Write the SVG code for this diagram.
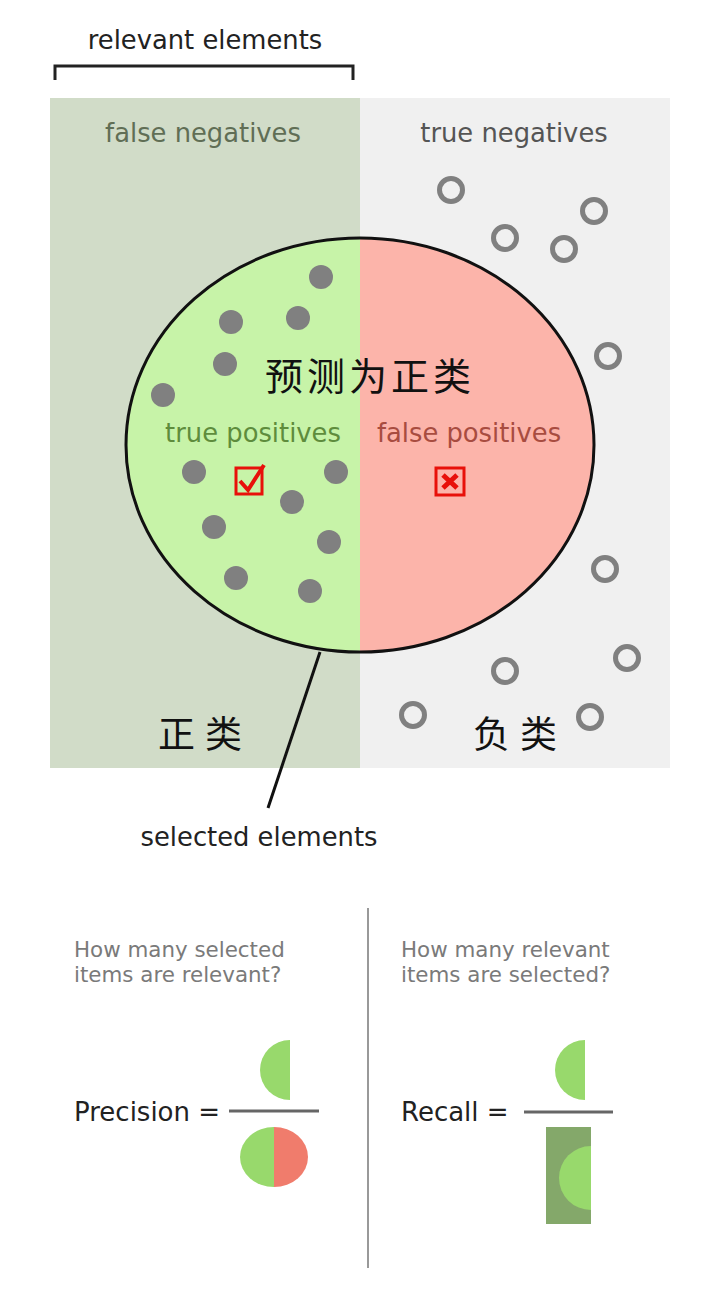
<svg xmlns="http://www.w3.org/2000/svg" width="720" height="1309" viewBox="0 0 720 1309">
<style>
.t{font-family:"DejaVu Sans",sans-serif;font-size:25.8px}
.cjk{font-family:"Noto Sans CJK SC","Noto Sans CJK JP",sans-serif;fill:#111}
.dot{fill:#808080}
.ring{fill:none;stroke:#808080;stroke-width:5}
.q{font-family:"DejaVu Sans",sans-serif;font-size:21.4px;fill:#7a7a7a}
.eq{font-family:"DejaVu Sans",sans-serif;font-size:26px;fill:#222}
</style>
<defs>
<clipPath id="cl"><rect x="0" y="0" width="360" height="1309"/></clipPath>
<clipPath id="cr"><rect x="360" y="0" width="360" height="1309"/></clipPath>
<clipPath id="rc"><rect x="546" y="1127" width="45" height="97"/></clipPath>
</defs>
<rect width="720" height="1309" fill="#fff"/>
<g id="relevant">
<text class="t" x="205" y="49" text-anchor="middle" fill="#222">relevant elements</text>
<path d="M55,80 V66 H353 V80" fill="none" stroke="#222" stroke-width="3"/>
</g>
<g id="panels">
<rect x="50" y="98" width="310" height="670" fill="#d1dcc8"/>
<rect x="360" y="98" width="310" height="670" fill="#f0f0f0"/>
<text class="t" x="203" y="142" text-anchor="middle" fill="#606e55">false negatives</text>
<text class="t" x="514" y="142" text-anchor="middle" fill="#555">true negatives</text>
</g>
<g id="selected">
<ellipse cx="360" cy="445" rx="234" ry="207" fill="#c7f3a8" clip-path="url(#cl)"/>
<ellipse cx="360" cy="445" rx="234" ry="207" fill="#fcb4aa" clip-path="url(#cr)"/>
<ellipse cx="360" cy="445" rx="234" ry="207" fill="none" stroke="#111" stroke-width="3"/>
<text class="cjk" x="370" y="390" font-size="38" text-anchor="middle" letter-spacing="4">预测为正类</text>
<text class="t" x="253" y="442" text-anchor="middle" fill="#5e8c3c">true positives</text>
<text class="t" x="469" y="442" text-anchor="middle" fill="#a84c40">false positives</text>
<rect x="236" y="468" width="26" height="26" fill="none" stroke="#e8100a" stroke-width="3"/>
<path d="M240,481 L248,490 L264,465" fill="none" stroke="#e8100a" stroke-width="4"/>
<rect x="436" y="468" width="28" height="27" fill="none" stroke="#e8100a" stroke-width="3"/>
<path d="M443,475 L457,488 M457,475 L443,488" fill="none" stroke="#e8100a" stroke-width="5"/>
</g>
<g id="points">
<circle class="dot" cx="321" cy="277" r="12"/>
<circle class="dot" cx="231" cy="322" r="12"/>
<circle class="dot" cx="298" cy="318" r="12"/>
<circle class="dot" cx="225" cy="364" r="12"/>
<circle class="dot" cx="163" cy="395" r="12"/>
<circle class="dot" cx="194" cy="472" r="12"/>
<circle class="dot" cx="336" cy="472" r="12"/>
<circle class="dot" cx="292" cy="502" r="12"/>
<circle class="dot" cx="214" cy="527" r="12"/>
<circle class="dot" cx="329" cy="542" r="12"/>
<circle class="dot" cx="236" cy="578" r="12"/>
<circle class="dot" cx="310" cy="591" r="12"/>
<circle class="ring" cx="451" cy="190" r="11.5"/>
<circle class="ring" cx="594" cy="211" r="11.5"/>
<circle class="ring" cx="505" cy="238" r="11.5"/>
<circle class="ring" cx="564" cy="249" r="11.5"/>
<circle class="ring" cx="608" cy="356" r="11.5"/>
<circle class="ring" cx="605" cy="569" r="11.5"/>
<circle class="ring" cx="627" cy="658" r="11.5"/>
<circle class="ring" cx="505" cy="671" r="11.5"/>
<circle class="ring" cx="413" cy="715" r="11.5"/>
<circle class="ring" cx="590" cy="717" r="11.5"/>
</g>
<g id="classes">
<text class="cjk" x="205" y="748" font-size="37" text-anchor="middle" letter-spacing="10">正类</text>
<text class="cjk" x="520" y="748" font-size="37" text-anchor="middle" letter-spacing="10">负类</text>
</g>
<g id="connectors">
<line x1="320" y1="652" x2="268" y2="808" stroke="#111" stroke-width="3"/>
<line x1="368" y1="908" x2="368" y2="1268" stroke="#999" stroke-width="2"/>
</g>
<g id="selected-label">
<text class="t" x="259" y="846" text-anchor="middle" fill="#222">selected elements</text>
</g>
<g id="precision">
<text class="q" x="74" y="957">How many selected</text>
<text class="q" x="74" y="982">items are relevant?</text>
<text class="eq" x="74" y="1121">Precision =</text>
<line x1="229" y1="1111" x2="319" y2="1111" stroke="#666" stroke-width="3"/>
<path d="M290,1040 A30,30 0 0 0 290,1100 Z" fill="#98d96c"/>
<path d="M274,1127 A34,30 0 0 0 274,1187 Z" fill="#98d96c"/>
<path d="M274,1127 A34,30 0 0 1 274,1187 Z" fill="#f07c6c"/>
</g>
<g id="recall">
<text class="q" x="401" y="957">How many relevant</text>
<text class="q" x="401" y="982">items are selected?</text>
<text class="eq" x="401" y="1121">Recall =</text>
<line x1="524" y1="1112" x2="613" y2="1112" stroke="#666" stroke-width="3"/>
<path d="M585,1040 A30,30 0 0 0 585,1100 Z" fill="#98d96c"/>
<rect x="546" y="1127" width="45" height="97" fill="#84a86a"/>
<circle cx="591" cy="1178" r="32" fill="#98d96c" clip-path="url(#rc)"/>
</g>
</svg>
